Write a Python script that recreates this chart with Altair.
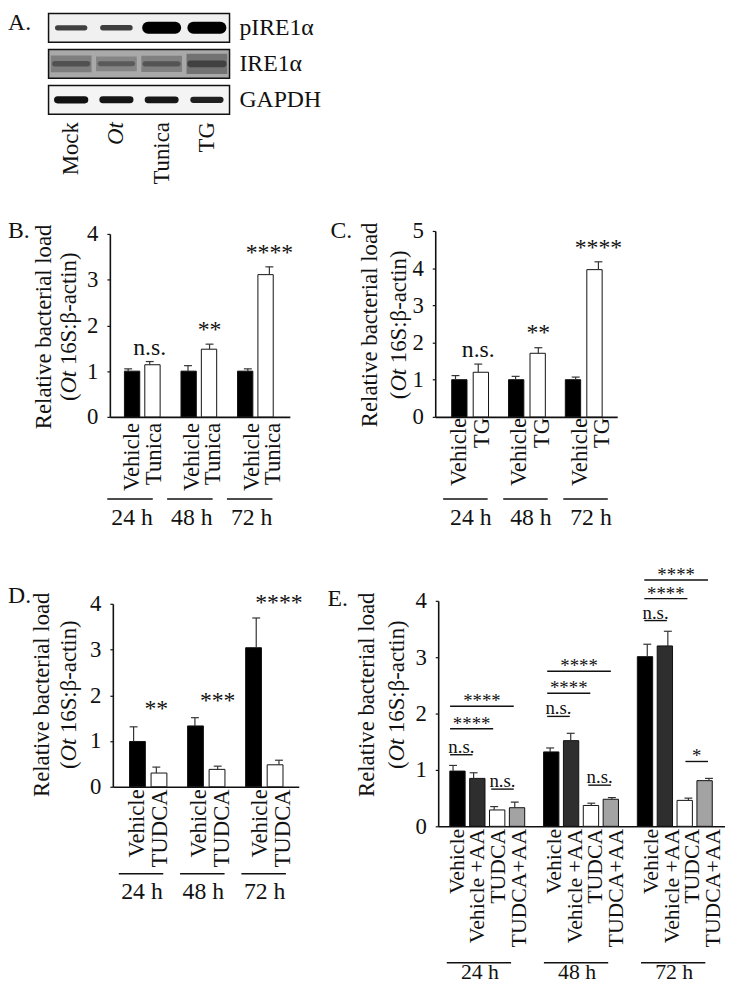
import altair as alt
import pandas as pd

FONT = "Liberation Serif"
INK = "#111111"
W, H = 725, 976

# ---------------- data ----------------
# Panel A: western blot (relative band signal, 0 = none, 1 = saturated)
lanes = ["Mock", "Ot", "Tunica", "TG"]
blot_rows = ["pIRE1α", "IRE1α", "GAPDH"]
pire1_signal = [0.25, 0.27, 1.00, 1.00]
ire1_signal = [0.70, 0.62, 0.68, 0.85]
gapdh_signal = [0.90, 0.88, 0.86, 0.78]

timepoints = ["24 h", "48 h", "72 h"]

# Panel B
b_treat = ["Vehicle", "Tunica"]
b_vehicle = [1.00, 1.00, 1.00]
b_vehicle_err = [0.05, 0.12, 0.05]
b_tunica = [1.14, 1.48, 3.11]
b_tunica_err = [0.07, 0.11, 0.17]
b_sig = ["n.s.", "**", "****"]
b_sig_y = [1.36, 1.75, 3.44]
b_ticks = [0, 1, 2, 3, 4]

# Panel C
c_treat = ["Vehicle", "TG"]
c_vehicle = [1.00, 1.00, 1.00]
c_vehicle_err = [0.11, 0.09, 0.07]
c_tg = [1.20, 1.71, 3.96]
c_tg_err = [0.22, 0.15, 0.21]
c_sig = ["n.s.", "**", "****"]
c_sig_y = [1.62, 2.07, 4.36]
c_ticks = [0, 1, 2, 3, 4, 5]

# Panel D
d_treat = ["Vehicle", "TUDCA"]
d_vehicle = [0.99, 1.33, 3.04]
d_vehicle_err = [0.32, 0.18, 0.65]
d_tudca = [0.30, 0.38, 0.48]
d_tudca_err = [0.13, 0.07, 0.10]
d_sig = ["**", "***", "****"]
d_sig_y = [1.54, 1.73, 3.87]
d_ticks = [0, 1, 2, 3, 4]

# Panel E
e_treat = ["Vehicle", "Vehicle +AA", "TUDCA", "TUDCA+AA"]
e_vehicle = [0.98, 1.32, 3.01]
e_vehicle_err = [0.10, 0.07, 0.22]
e_vehicle_aa = [0.85, 1.52, 3.20]
e_vehicle_aa_err = [0.10, 0.13, 0.26]
e_tudca = [0.29, 0.37, 0.46]
e_tudca_err = [0.06, 0.04, 0.04]
e_tudca_aa = [0.33, 0.48, 0.81]
e_tudca_aa_err = [0.10, 0.03, 0.04]
e_ticks = [0, 1, 2, 3, 4]
e_cmp_time = [0, 0, 0, 0, 1, 1, 1, 1, 2, 2, 2, 2]
e_cmp_from = [0, 0, 0, 2, 0, 0, 0, 2, 0, 0, 0, 2]
e_cmp_to = [1, 2, 3, 3, 1, 2, 3, 3, 1, 2, 3, 3]
e_cmp_level = [1.27, 1.73, 2.13, 0.66, 1.95, 2.36, 2.75, 0.73, 3.65, 4.04, 4.37, 1.15]
e_cmp_label = ["n.s.", "****", "****", "n.s.", "n.s.", "****", "****", "n.s.",
               "n.s.", "****", "****", "*"]

# ---------------- layout (pixels inside the chart) ----------------
PB = dict(c0=121.5, step=21.8, gstep=60.5, ax0=103, ax1=285, y0=408, ytop=223, ymax=4, barw=15.5,
          lab_dx=-6, lab_dy=4, lab_fs=23, ul_half=23, ul_shift=-9, ul_dy=83, gl_shift=-7, gl_dy=102, gl_fs=24)
PC = dict(c0=452.5, step=23.0, gstep=60.75, ax0=432, ax1=616, y0=408, ytop=220, ymax=5, barw=15.5,
          lab_dx=-1, lab_dy=4, lab_fs=23, ul_half=22.5, ul_shift=-1.5, ul_dy=83, gl_shift=4, gl_dy=102, gl_fs=24)
PD = dict(c0=127, step=23.0, gstep=62, ax0=106, ax1=294, y0=782, ytop=597, ymax=4, barw=16,
          lab_dx=-2.5, lab_dy=4, lab_fs=23, ul_half=22.5, ul_shift=-4, ul_dy=88, gl_shift=-3, gl_dy=107, gl_fs=24)
PE = dict(c0=450, step=20.8, gstep=98.2, ax0=435, ax1=725, y0=822, ytop=594, ymax=4, barw=15.5,
          lab_dx=-2.5, lab_dy=4, lab_fs=22, ul_half=32.5, ul_shift=-5, ul_dy=138, gl_shift=-4, gl_dy=147, gl_fs=22)

TICK_FS = 23
SIG_FS = 24


def xscale(P):
    lo = (P["ax0"] - P["c0"]) / P["step"]
    hi = (P["ax1"] - P["c0"]) / P["step"]
    return alt.Scale(domain=[lo, hi], range=[P["ax0"], P["ax1"]], nice=False, zero=False)


def yscale(P):
    return alt.Scale(domain=[0, P["ymax"]], range=[P["y0"], P["ytop"]], nice=False, zero=False)


def bar_panel(P, treats, means, errs, colors, yticks):
    G = P["gstep"] / P["step"]
    n = len(treats)
    rows = []
    for g, tp in enumerate(timepoints):
        for t, name in enumerate(treats):
            rows.append({"slot": g * G + t, "treat": name, "time": tp,
                         "value": means[t][g], "top": means[t][g] + errs[t][g]})
    df = pd.DataFrame(rows)
    xs, ys = xscale(P), yscale(P)
    xa = alt.Axis(orient="bottom", offset=P["y0"] - H, labels=False, ticks=False, grid=False,
                  domainColor=INK, domainWidth=1.6, title=None)
    ya = alt.Axis(orient="left", offset=-P["ax0"], values=yticks, format="d", grid=False, title=None,
                  labelFont=FONT, labelFontSize=TICK_FS, labelColor=INK, labelPadding=9,
                  tickColor=INK, tickSize=3, tickWidth=1.2, domainColor=INK, domainWidth=1.6)
    bars = alt.Chart(df).mark_bar(width=P["barw"], stroke=INK, strokeWidth=1, opacity=1).encode(
        x=alt.X("slot:Q", scale=xs, axis=xa),
        y=alt.Y("value:Q", scale=ys, axis=ya),
        y2=alt.Y2Datum(0),
        fill=alt.Fill("treat:N", scale=alt.Scale(domain=treats, range=colors), legend=None),
    )
    err = alt.Chart(df).mark_rule(color="#333333", strokeWidth=1.2).encode(
        x=alt.X("slot:Q", scale=xs, axis=None),
        y=alt.Y("value:Q", scale=ys, axis=None),
        y2="top:Q",
    )
    cap = alt.Chart(df).mark_tick(orient="horizontal", size=8, thickness=1.2, color="#333333",
                                  opacity=1).encode(
        x=alt.X("slot:Q", scale=xs, axis=None),
        y=alt.Y("top:Q", scale=ys, axis=None),
    )
    labels = alt.Chart(df).mark_text(angle=270, align="right", baseline="middle", dx=P["lab_dx"],
                                     dy=P["lab_dy"], fontSize=P["lab_fs"], font=FONT, color=INK).encode(
        x=alt.X("slot:Q", scale=xs, axis=None),
        y=alt.YDatum(0, scale=ys, axis=None),
        text="treat:N",
    )
    gdf = pd.DataFrame({"time": timepoints, "gc": [g * G + (n - 1) / 2 for g in range(3)]})
    gdf["x0"] = gdf["gc"] + (P["ul_shift"] - P["ul_half"]) / P["step"]
    gdf["x1"] = gdf["gc"] + (P["ul_shift"] + P["ul_half"]) / P["step"]
    ul = alt.Chart(gdf).mark_rule(color=INK, strokeWidth=1.6, yOffset=P["ul_dy"]).encode(
        x=alt.X("x0:Q", scale=xs, axis=None),
        x2="x1:Q",
        y=alt.YDatum(0, scale=ys, axis=None),
    )
    gl = alt.Chart(gdf).mark_text(fontSize=P["gl_fs"], font=FONT, color=INK, baseline="middle",
                                  dx=P["gl_shift"], dy=P["gl_dy"]).encode(
        x=alt.X("gc:Q", scale=xs, axis=None),
        y=alt.YDatum(0, scale=ys, axis=None),
        text="time:N",
    )
    return [bars, err, cap, labels, ul, gl], xs, ys, G


def sig_layer(P, xs, ys, G, sig, sig_y):
    sdf = pd.DataFrame({"slot": [g * G + 1 for g in range(3)], "label": sig, "y": sig_y})
    return alt.Chart(sdf).mark_text(fontSize=SIG_FS, font=FONT, color=INK, baseline="alphabetic").encode(
        x=alt.X("slot:Q", scale=xs, axis=None),
        y=alt.Y("y:Q", scale=ys, axis=None),
        text="label:N",
    )


def title_layers(x1, x2, yc, fs=23):
    out = [alt.Chart(pd.DataFrame({"t": ["Relative bacterial load"]})).mark_text(
        angle=270, align="center", baseline="middle", fontSize=fs, font=FONT, color=INK).encode(
        x=alt.value(x1), y=alt.value(yc), text="t:N")]
    start = yc + 6.527 * fs / 2
    pieces = [("(", 0.0, "normal"), ("Ot", 0.333, "italic"), ("16S:β-actin)", 1.583, "normal")]
    for s, off, style in pieces:
        out.append(alt.Chart(pd.DataFrame({"t": [s]})).mark_text(
            angle=270, align="left", baseline="middle", fontSize=fs, font=FONT, fontStyle=style,
            color=INK).encode(x=alt.value(x2), y=alt.value(start - off * fs), text="t:N"))
    return out


def letter(s, x, y):
    return alt.Chart(pd.DataFrame({"t": [s]})).mark_text(
        align="left", baseline="middle", fontSize=24, font=FONT, color=INK).encode(
        x=alt.value(x), y=alt.value(y), text="t:N")


layers = []

# ---------------- Panel A ----------------
lane_idx = [i + 1 for i in range(len(lanes))]
lane_scale = alt.Scale(domain=[0.5, 4.5], range=[41, 224], nice=False, zero=False)
row_scale = alt.Scale(type="band", domain=blot_rows, range=[0, 102], paddingInner=0.2, paddingOuter=0)

box = alt.Chart(pd.DataFrame({"row": blot_rows})).mark_rect(stroke=INK, strokeWidth=1.5, opacity=1).encode(
    x=alt.XDatum(0.5, scale=lane_scale, axis=None),
    x2=alt.X2Datum(4.5),
    y=alt.Y("row:N", scale=row_scale, axis=None),
    fill=alt.Fill("row:N", scale=alt.Scale(domain=blot_rows, range=["#f0f0f0", "#a9a9a9", "#f4f4f4"]),
                  legend=None),
)
layers.append(box)


def band_layer(row, signal, half, size_rng, color_rng, cap="round", opacity=1.0):
    df = pd.DataFrame({"lane": lane_idx, "row": row, "signal": signal})
    df["x0"] = df["lane"] - half
    df["x1"] = df["lane"] + half
    return alt.Chart(df).mark_rule(strokeCap=cap, opacity=opacity).encode(
        x=alt.X("x0:Q", scale=lane_scale, axis=None),
        x2="x1:Q",
        y=alt.Y("row:N", scale=row_scale, axis=None),
        size=alt.Size("signal:Q", scale=alt.Scale(domain=[0, 1], range=size_rng), legend=None),
        color=alt.Color("signal:Q", scale=alt.Scale(domain=[0, 1], range=color_rng), legend=None),
    )


layers.append(band_layer("pIRE1α", pire1_signal, 0.3, [3, 12], ["#555555", "#000000"]))
layers.append(band_layer("IRE1α", ire1_signal, 0.45, [0, 24], ["#bdbdbd", "#5e5e5e"], cap="butt", opacity=0.9))
layers.append(band_layer("IRE1α", ire1_signal, 0.36, [0, 8], ["#999999", "#262626"], opacity=0.8))
layers.append(band_layer("GAPDH", gapdh_signal, 0.3, [0, 8], ["#888888", "#000000"]))

layers.append(alt.Chart(pd.DataFrame({"row": blot_rows})).mark_text(
    align="left", baseline="middle", dx=10, fontSize=24, font=FONT, color=INK).encode(
    x=alt.XDatum(4.5, scale=lane_scale, axis=None),
    y=alt.Y("row:N", scale=row_scale, axis=None),
    text="row:N"))

ll_df = pd.DataFrame({"lane": lane_idx, "name": lanes})
for style, cond in [("normal", "datum.name != 'Ot'"), ("italic", "datum.name == 'Ot'")]:
    layers.append(alt.Chart(ll_df).transform_filter(cond).mark_text(
        angle=270, align="right", baseline="middle", dx=-2, fontSize=23, font=FONT, fontStyle=style,
        color=INK).encode(
        x=alt.X("lane:Q", scale=lane_scale, axis=None),
        y=alt.value(108),
        text="name:N"))

layers.append(letter("A.", 0, 10))

# ---------------- Panel B ----------------
lb, xs, ys, G = bar_panel(PB, b_treat, [b_vehicle, b_tunica], [b_vehicle_err, b_tunica_err],
                          ["#000000", "#ffffff"], b_ticks)
layers += lb
layers.append(sig_layer(PB, xs, ys, G, b_sig, b_sig_y))
layers += title_layers(36, 62, 317)
layers.append(letter("B.", 0, 220))

# ---------------- Panel C ----------------
lc, xs, ys, G = bar_panel(PC, c_treat, [c_vehicle, c_tg], [c_vehicle_err, c_tg_err],
                          ["#000000", "#ffffff"], c_ticks)
layers += lc
layers.append(sig_layer(PC, xs, ys, G, c_sig, c_sig_y))
layers += title_layers(366, 395, 315)
layers.append(letter("C.", 326, 220))

# ---------------- Panel D ----------------
ld, xs, ys, G = bar_panel(PD, d_treat, [d_vehicle, d_tudca], [d_vehicle_err, d_tudca_err],
                          ["#000000", "#ffffff"], d_ticks)
layers += ld
layers.append(sig_layer(PD, xs, ys, G, d_sig, d_sig_y))
layers += title_layers(34, 62, 689)
layers.append(letter("D.", 0, 589))

# ---------------- Panel E ----------------
le, xs, ys, G = bar_panel(PE, e_treat, [e_vehicle, e_vehicle_aa, e_tudca, e_tudca_aa],
                          [e_vehicle_err, e_vehicle_aa_err, e_tudca_err, e_tudca_aa_err],
                          ["#000000", "#2e2e2e", "#ffffff", "#a3a3a3"], e_ticks)
layers += le
cdf = pd.DataFrame({"time": e_cmp_time, "a": e_cmp_from, "b": e_cmp_to,
                    "level": e_cmp_level, "label": e_cmp_label})
cdf["x0"] = cdf["time"] * G + cdf["a"]
cdf["x1"] = cdf["time"] * G + cdf["b"]
cdf["xm"] = (cdf["x0"] + cdf["x1"]) / 2
layers.append(alt.Chart(cdf).mark_rule(color=INK, strokeWidth=1.4, xOffset=-3, x2Offset=-1).encode(
    x=alt.X("x0:Q", scale=xs, axis=None),
    x2="x1:Q",
    y=alt.Y("level:Q", scale=ys, axis=None)))
for cond, dy in [("datum.label == 'n.s.'", -2), ("datum.label != 'n.s.'", 1)]:
    layers.append(alt.Chart(cdf).transform_filter(cond).mark_text(
        fontSize=19, font=FONT, color=INK, baseline="alphabetic", dx=-2, dy=dy).encode(
        x=alt.X("xm:Q", scale=xs, axis=None),
        y=alt.Y("level:Q", scale=ys, axis=None),
        text="label:N"))
layers += title_layers(363, 393, 689)
layers.append(letter("E.", 323, 592))

chart = alt.layer(*layers).resolve_scale(
    x="independent", y="independent", color="independent", fill="independent", size="independent"
).properties(
    width=W, height=H, autosize=alt.AutoSizeParams(type="none"), padding=0, background="white"
).configure_view(stroke=None)

chart.save("out.html", embed_options={"renderer": "svg", "actions": False})
